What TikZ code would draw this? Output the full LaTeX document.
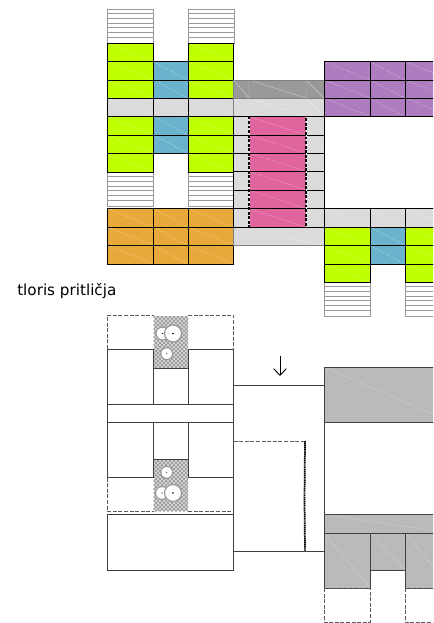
\documentclass[tikz,border=0pt]{standalone}
\usepackage{fontspec}
\setmainfont{DejaVu Sans}
\usetikzlibrary{patterns,arrows.meta}
\definecolor{limecell}{RGB}{191,255,0}
\definecolor{bluecell}{RGB}{107,179,204}
\definecolor{lightcell}{RGB}{219,219,219}
\definecolor{darkcell}{RGB}{153,153,153}
\definecolor{purplecell}{RGB}{176,124,192}
\definecolor{pinkcell}{RGB}{224,101,159}
\definecolor{orangecell}{RGB}{232,169,58}
\definecolor{slabcell}{RGB}{186,186,186}
\tikzset{
  cell/.style={draw=black,line width=0.7pt,fill=#1,path picture={
    \draw [white,opacity=0.5,line width=0.3pt,dash pattern={on 1.2pt off 1pt}] (path picture bounding box.north west) -- (path picture bounding box.south east);}},
  softcell/.style={cell=#1,draw=gray},
  plan/.style={draw=black!75,line width=0.7pt},
  dashplan/.style={draw=black!65,line width=0.6pt,dash pattern={on 3pt off 1.2pt}},
  hatch/.style={pattern=crosshatch dots,pattern color=black},
  tree/.style={draw=black!40,line width=0.9pt,fill=white},
  stair/.pic={
    \draw [black!40,line width=0.7pt,yscale=-1] (0,0) rectangle (46,34)
      (0,4.7) -- (46,4.7) (0,9.4) -- (46,9.4) (0,14.1) -- (46,14.1) (0,18.8) -- (46,18.8)
      (0,23.5) -- (46,23.5) (0,28.2) -- (46,28.2);
  }
}
\begin{document}
\begin{tikzpicture}[x=0.75pt,y=0.75pt,yscale=-1,xscale=1]
\clip (0,0) rectangle (433,623);

%Stairs
\pic at (107.5,9) {stair};
\pic at (188,9) {stair};
\pic at (107.5,172) {stair};
\pic at (188,172) {stair};
\pic at (324,282) {stair};
\pic at (405,282) {stair};

%Upper wing, green rooms
\draw [cell=limecell] (107.5,43) rectangle (153.5,61.5);
\draw [cell=limecell] (107.5,61.5) rectangle (153.5,80);
\draw [cell=limecell] (107.5,80) rectangle (153.5,98);
\draw [cell=limecell] (188,43) rectangle (233.5,61.5);
\draw [cell=limecell] (188,61.5) rectangle (233.5,80);
\draw [cell=limecell] (188,80) rectangle (233.5,98);
\draw [cell=limecell] (107.5,116.5) rectangle (153.5,135);
\draw [cell=limecell] (107.5,135) rectangle (153.5,153);
\draw [cell=limecell] (107.5,153) rectangle (153.5,172);
\draw [cell=limecell] (188,116.5) rectangle (233.5,135);
\draw [cell=limecell] (188,135) rectangle (233.5,153);
\draw [cell=limecell] (188,153) rectangle (233.5,172);
%Upper wing, blue rooms
\draw [cell=bluecell] (153.5,61.5) rectangle (188,80);
\draw [cell=bluecell] (153.5,80) rectangle (188,98);
\draw [cell=bluecell] (153.5,116.5) rectangle (188,135);
\draw [cell=bluecell] (153.5,135) rectangle (188,153);
%Upper wing, corridor
\draw [cell=lightcell] (107.5,98) rectangle (153.5,116.5);
\draw [cell=lightcell] (153.5,98) rectangle (188,116.5);
\draw [cell=lightcell] (188,98) rectangle (233.5,116.5);
%Orange rooms
\draw [cell=orangecell] (107.5,208.5) rectangle (153.5,227);
\draw [cell=orangecell] (153.5,208.5) rectangle (188,227);
\draw [cell=orangecell] (188,208.5) rectangle (233.5,227);
\draw [cell=orangecell] (107.5,227) rectangle (153.5,245.5);
\draw [cell=orangecell] (153.5,227) rectangle (188,245.5);
\draw [cell=orangecell] (188,227) rectangle (233.5,245.5);
\draw [cell=orangecell] (107.5,245.5) rectangle (153.5,264);
\draw [cell=orangecell] (153.5,245.5) rectangle (188,264);
\draw [cell=orangecell] (188,245.5) rectangle (233.5,264);

%Middle, dark and light bands
\fill [darkcell] (233.5,80) rectangle (324,98);
\fill [lightcell] (233.5,98) rectangle (324,116.5);
\draw [white,opacity=0.5,line width=0.3pt] (233.5,80) -- (249,98) -- (249,80) (249,80) -- (306,98) (306,80) -- (306,98) -- (324,116.5) (306,80) -- (324,98) (233.5,98) -- (249,116.5) (249,98) -- (306,116.5);
\draw [draw=gray,line width=0.7pt] (233.5,80) rectangle (324,98);
\draw [draw=gray,line width=0.7pt] (233.5,98) rectangle (324,116.5);
\draw [softcell=lightcell] (233.5,227) rectangle (324,245.5);
%Middle, side strips
\draw [cell=lightcell] (233.5,116.5) rectangle (249,135);
\draw [cell=lightcell] (233.5,135) rectangle (249,153);
\draw [cell=lightcell] (233.5,153) rectangle (249,171.5);
\draw [cell=lightcell] (233.5,171.5) rectangle (249,190);
\draw [cell=lightcell] (233.5,190) rectangle (249,208.5);
\draw [cell=lightcell] (233.5,208.5) rectangle (249,227);
\draw [cell=lightcell] (306,116.5) rectangle (324,135);
\draw [cell=lightcell] (306,135) rectangle (324,153);
\draw [cell=lightcell] (306,153) rectangle (324,171.5);
\draw [cell=lightcell] (306,171.5) rectangle (324,190);
\draw [cell=lightcell] (306,190) rectangle (324,208.5);
\draw [cell=lightcell] (306,208.5) rectangle (324,227);
%Middle, pink hall
\draw [cell=pinkcell] (249,116.5) rectangle (306,135);
\draw [cell=pinkcell] (249,135) rectangle (306,153);
\draw [cell=pinkcell] (249,153) rectangle (306,171.5);
\draw [cell=pinkcell] (249,171.5) rectangle (306,190);
\draw [cell=pinkcell] (249,190) rectangle (306,208.5);
\draw [cell=pinkcell] (249,208.5) rectangle (306,227);
\draw [white,line width=0.7pt] (249,116.5) -- (249,227) (306,116.5) -- (306,227);
\draw [black,line width=0.8pt,dash pattern={on 2.2pt off 1.2pt}] (249,116.5) -- (306,116.5) -- (306,227) (249,116.5) -- (249,227);

%Right wing, purple rooms
\draw [cell=purplecell] (324,61.5) rectangle (370,80);
\draw [cell=purplecell] (370,61.5) rectangle (405,80);
\draw [cell=purplecell] (405,61.5) rectangle (451,80);
\draw [cell=purplecell] (324,80) rectangle (370,98);
\draw [cell=purplecell] (370,80) rectangle (405,98);
\draw [cell=purplecell] (405,80) rectangle (451,98);
\draw [cell=purplecell] (324,98) rectangle (370,116.5);
\draw [cell=purplecell] (370,98) rectangle (405,116.5);
\draw [cell=purplecell] (405,98) rectangle (451,116.5);
%Right wing, corridor
\draw [cell=lightcell] (324,208.5) rectangle (370,227);
\draw [cell=lightcell] (370,208.5) rectangle (405,227);
\draw [cell=lightcell] (405,208.5) rectangle (451,227);
%Right wing, green and blue rooms
\draw [cell=limecell] (324,227) rectangle (370,245.5);
\draw [cell=limecell] (324,245.5) rectangle (370,264);
\draw [cell=limecell] (324,264) rectangle (370,282);
\draw [cell=bluecell] (370,227) rectangle (405,245.5);
\draw [cell=bluecell] (370,245.5) rectangle (405,264);
\draw [cell=limecell] (405,227) rectangle (451,245.5);
\draw [cell=limecell] (405,245.5) rectangle (451,264);
\draw [cell=limecell] (405,264) rectangle (451,282);

%Title
\node (title) [font=\fontsize{11.4pt}{13pt}\selectfont,anchor=base west,inner sep=0pt] at (17,295.5) {tloris pritličja};

%Lower plan, hatched wells
\fill [black!18] (153.5,316) rectangle (188,368);
\fill [black!18] (153.5,459.5) rectangle (188,511);
\fill [hatch] (153.5,316) rectangle (188,368);
\fill [hatch] (153.5,459.5) rectangle (188,511);
%Lower plan, trees
\draw [tree] (162.5,333.5) circle (6.5);
\draw [tree] (173,333.5) circle (8.5);
\draw [tree] (166.7,353.7) circle (6);
\draw [tree] (166.7,472.3) circle (6);
\draw [tree] (162,493) circle (6.5);
\draw [tree] (173,493) circle (8.5);
\fill (162.5,333.5) circle (0.7) (173,333.5) circle (0.8) (166.7,353.7) circle (0.5) (166.7,472.3) circle (0.5) (162,493) circle (0.7) (173,493) circle (0.8);

%Lower plan, left block
\draw [dashplan] (107.5,349) -- (107.5,315) -- (153.5,315);
\draw [dashplan] (188,315) -- (233.5,315) -- (233.5,349);
\draw [plan] (107.5,349) rectangle (153.5,404.5);
\draw [plan] (188,349) rectangle (233.5,404.5);
\draw [plan] (153.5,368) rectangle (188,404.5);
\draw [plan] (107.5,404.5) rectangle (233.5,422.5);
\draw [plan] (107.5,422.5) rectangle (153.5,477.5);
\draw [plan] (188,422.5) rectangle (233.5,477.5);
\draw [plan] (153.5,422.5) rectangle (188,459.5);
\draw [dashplan] (107.5,477.5) -- (107.5,511.5) -- (153.5,511.5);
\draw [dashplan] (188,511.5) -- (233.5,511.5) -- (233.5,477.5);
\draw [plan] (107.5,514.5) rectangle (233.5,570);

%Lower plan, middle hall
\draw [plan] (233.5,385.5) rectangle (324,551);
\draw [dashplan] (233.5,441) -- (305,441);
\draw [black,line width=1.3pt,dash pattern={on 1pt off 0.4pt}] (305,441) -- (304.5,500) -- (305,551);
%Entrance arrow
\coordinate (arrowtop) at (280,356);
\coordinate (arrowend) at (280,376);
\draw [-{Straight Barb[length=5pt,width=9.5pt]},line width=0.7pt] (arrowtop) -- (arrowend);

%Lower plan, right wing
\draw [softcell=slabcell,draw=black!75] (324,367) rectangle (451,422);
\draw [softcell=slabcell,draw=black!75] (324,514.5) rectangle (451,533);
\draw [softcell=slabcell,draw=black!75] (324,533) rectangle (370,588);
\draw [softcell=slabcell,draw=black!75] (370,533) rectangle (405,570);
\draw [softcell=slabcell,draw=black!75] (405,533) rectangle (451,588);
\draw [dashplan,line width=0.45pt] (324,588) rectangle (370,622);
\draw [dashplan,line width=0.45pt] (405,588) rectangle (451,622);

\end{tikzpicture}
\end{document}
